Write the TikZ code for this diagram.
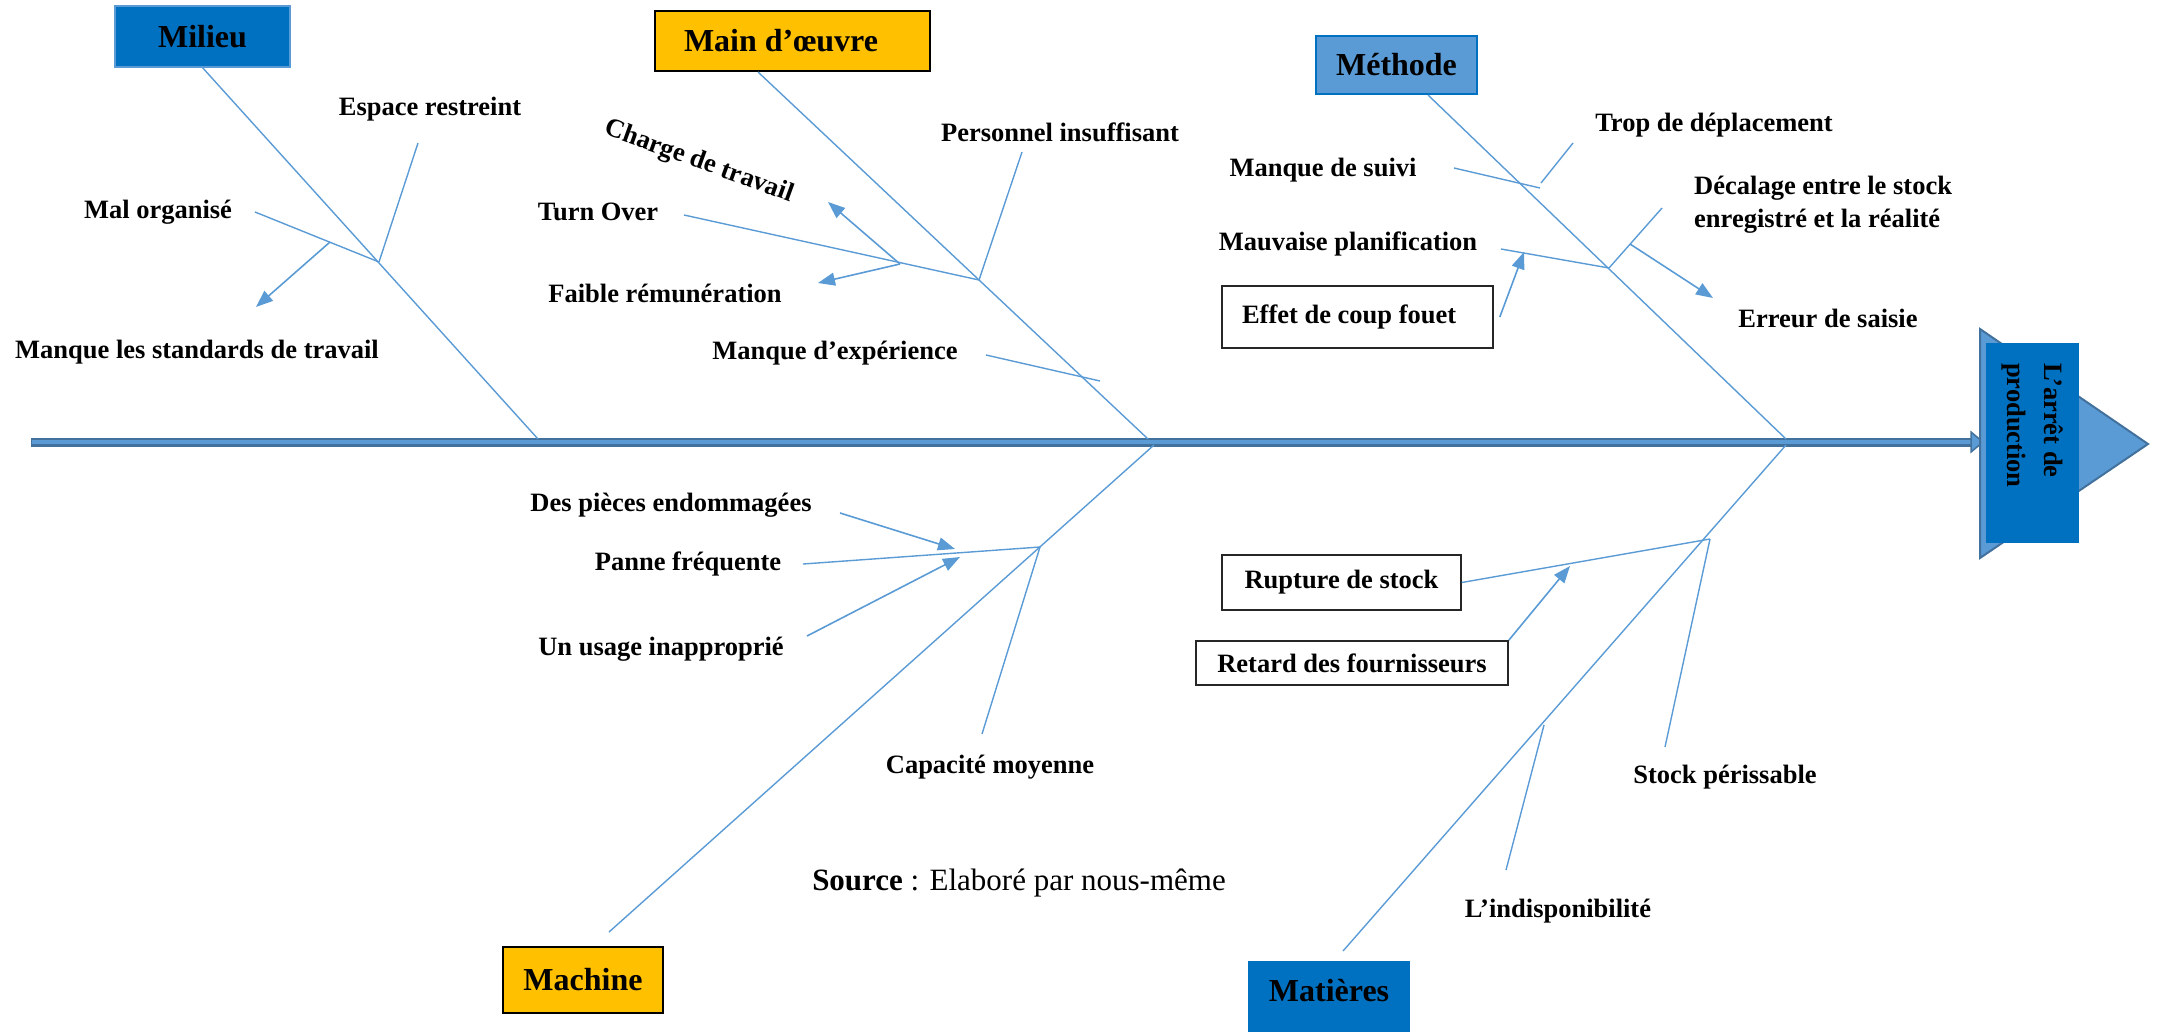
\documentclass[tikz,border=0pt]{standalone}
\usepackage{fontspec}
\setmainfont{Liberation Serif}
\usetikzlibrary{arrows.meta}
\definecolor{bone}{HTML}{5B9BD5}
\definecolor{darkblue}{HTML}{0070C0}
\definecolor{midblue}{HTML}{5B9BD5}
\definecolor{edgeblue}{HTML}{41719C}
\definecolor{gold}{HTML}{FFC000}
\tikzset{
  lbl/.style={font=\fontsize{26.5}{33}\selectfont\bfseries, inner sep=0pt},
  cat/.style={font=\fontsize{32}{38}\selectfont\bfseries, inner sep=0pt},
  bonel/.style={draw=bone, line width=1.4pt},
  arr/.style={draw=bone, line width=1.6pt, -{Triangle[length=17pt,width=13pt]}},
  framebox/.style={lbl, draw=black!85, line width=1.6pt, fill=white},
}
\begin{document}
\begin{tikzpicture}[x=1pt,y=-1pt]
\useasboundingbox (0,0) rectangle (2157,1031);

% spine
\coordinate (spineL) at (31,442);
\coordinate (spineR) at (1975,442);
\draw[line width=9pt, edgeblue] (spineL) -- (spineR);
\draw[line width=4pt, midblue] ([xshift=1pt]spineL) -- ([xshift=-1pt]spineR);
\draw[fill=midblue, draw=edgeblue, line width=1.5pt] (1971,432) -- (1983,442) -- (1971,452) -- cycle;

% head
\draw[fill=midblue, draw=edgeblue, line width=2pt] (1980,329) -- (2148,444) -- (1980,558) -- cycle;
\node[lbl, rotate=-90, fill=darkblue, minimum width=200pt, minimum height=93pt,
      inner xsep=20pt, inner ysep=0pt] (effect) at (2032.5,443)
      {\parbox[c]{160pt}{\baselineskip=37pt L’arrêt de\\production}};

% category boxes
\node[cat, fill=darkblue, draw=midblue, line width=1.2pt, minimum width=175pt, minimum height=61pt] (milieu) at (202.5,36.5) {Milieu};
\node[cat, fill=gold, draw=black, line width=1.6pt, minimum width=275pt, minimum height=60pt,
      inner xsep=29pt] (mainoeuvre) at (792.5,41) {\makebox[217pt][l]{Main d’œuvre}};
\node[cat, fill=midblue, draw=darkblue, line width=1.2pt, minimum width=161pt, minimum height=58pt] (methode) at (1396.5,65) {Méthode};
\node[cat, fill=gold, draw=black, line width=1.6pt, minimum width=160pt, minimum height=66pt] (machine) at (583,980) {Machine};
\node[cat, fill=darkblue, minimum width=162pt, minimum height=76pt, anchor=north,
      text height=24pt, text depth=20pt] (matieres) at (1329,961) {Matières};

% ---------- Milieu ----------
\coordinate (miS) at (538,439);
\coordinate (miJ) at (379,262);
\coordinate (miA) at (418,143);
\coordinate (miB) at (255,212);
\coordinate (miC) at (330,242);
\coordinate (miD) at (256,307);
\draw[bonel] (milieu.south) -- (miS);
\draw[bonel] (miA) -- (miJ);
\draw[bonel] (miB) -- (miJ);
\draw[arr] (miC) -- (miD);
\node[lbl] (es) at (430,109) {Espace restreint};
\node[lbl] (mo) at (158,212) {Mal organisé};
\node[lbl] (ms) at (197,352) {Manque les standards de travail};

% ---------- Main d'oeuvre ----------
\coordinate (moT) at (758,72);
\coordinate (moS) at (1148,439);
\coordinate (moJ) at (979,280);
\coordinate (moA) at (1022,152);
\coordinate (moB) at (684,215);
\coordinate (moC) at (900,264);
\coordinate (moD) at (828,202);
\coordinate (moE) at (818,283);
\coordinate (moF) at (986,355);
\coordinate (moG) at (1100,381);
\draw[bonel] (moT) -- (moS);
\draw[bonel] (moA) -- (moJ);
\draw[bonel] (moB) -- (moJ);
\draw[arr] (moC) -- (moD);
\draw[arr] (moC) -- (moE);
\draw[bonel] (moF) -- (moG);
\node[lbl, rotate=-20] (ct) at (699,162) {Charge de travail};
\node[lbl] (to) at (598,212) {Turn Over};
\node[lbl] (fr) at (665,293) {Faible rémunération};
\node[lbl] (pi) at (1060,132) {Personnel insuffisant};
\node[lbl] (me) at (835,353) {Manque d’expérience};

% ---------- Methode ----------
\coordinate (meT) at (1428,95);
\coordinate (meS) at (1786,439);
\coordinate (meA) at (1573,143);
\coordinate (meB) at (1541,183);
\coordinate (meC) at (1454,168);
\coordinate (meD) at (1540,188);
\coordinate (meJ) at (1609,268);
\coordinate (meE) at (1662,208);
\coordinate (meF) at (1501,249);
\coordinate (meG) at (1630,244);
\coordinate (meH) at (1713,298);
\coordinate (meK) at (1524,252);
\draw[bonel] (meT) -- (meS);
\draw[bonel] (meA) -- (meB);
\draw[bonel] (meC) -- (meD);
\draw[bonel] (meE) -- (meJ);
\draw[bonel] (meF) -- (meJ);
\draw[arr] (meG) -- (meH);
\node[framebox, minimum width=271pt, minimum height=62pt, inner xsep=20pt] (effet) at (1357.5,317) {\raisebox{4pt}{\makebox[231pt][l]{Effet de coup fouet}}};
\draw[arr] ([xshift=6pt]effet.east) -- (meK);
\node[lbl] (td) at (1714,125) {Trop de déplacement};
\node[lbl] (ms2) at (1323,170) {Manque de suivi};
\node[lbl, anchor=west] (dec) at (1694,204) {\begin{tabular}{@{}l@{}}Décalage entre le stock\\enregistré et la réalité\end{tabular}};
\node[lbl] (mp) at (1348,244) {Mauvaise planification};
\node[lbl] (erreur) at (1828,318) {Erreur de saisie};

% ---------- Machine ----------
\coordinate (maS) at (1154,445);
\coordinate (maB) at (609,932);
\coordinate (maJ) at (1040,547);
\coordinate (maA) at (803,564);
\coordinate (maC) at (982,734);
\coordinate (maD) at (840,513);
\coordinate (maE) at (955,549);
\coordinate (maF) at (807,636);
\coordinate (maG) at (960,557);
\draw[bonel] (maS) -- (maB);
\draw[bonel] (maA) -- (maJ);
\draw[bonel] (maJ) -- (maC);
\draw[arr] (maD) -- (maE);
\draw[arr] (maF) -- (maG);
\node[lbl] (dp) at (671,505) {Des pièces endommagées};
\node[lbl] (pf) at (688,564) {Panne fréquente};
\node[lbl] (ui) at (661,649) {Un usage inapproprié};
\node[lbl] (cm) at (990,767) {Capacité moyenne};
\node[inner sep=0pt, font=\fontsize{31}{36}\selectfont] (src) at (1019,883) {\textbf{Source} : Elaboré par nous-même};

% ---------- Matieres ----------
\coordinate (mtS) at (1786,445);
\coordinate (mtB) at (1343,951);
\coordinate (mtJ) at (1710,539);
\coordinate (mtC) at (1665,747);
\coordinate (mtD) at (1570,566);
\coordinate (mtE) at (1544,725);
\coordinate (mtF) at (1506,870);
\draw[bonel] (mtS) -- (mtB);
\node[framebox, minimum width=239pt, minimum height=55pt] (rupture) at (1341.5,582.5) {Rupture de stock};
\node[framebox, minimum width=312pt, minimum height=44pt] (retard) at (1352,663) {Retard des fournisseurs};
\draw[bonel] (rupture.east) -- (mtJ);
\draw[bonel] (mtJ) -- (mtC);
\draw[arr] (retard.north east) -- (mtD);
\draw[bonel] (mtE) -- (mtF);
\node[lbl] (sp) at (1725,777) {Stock périssable};
\node[lbl] (li) at (1558,911) {L’indisponibilité};
\end{tikzpicture}
\end{document}
